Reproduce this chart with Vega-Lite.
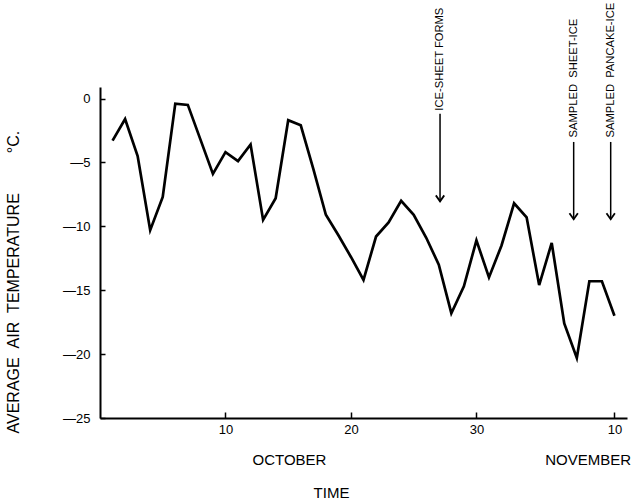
{
  "$schema": "https://vega.github.io/schema/vega-lite/v6.json",
  "width": 527,
  "height": 331,
  "autosize": "none",
  "padding": {"left": 100, "top": 87, "right": 6, "bottom": 81},
  "background": "white",
  "config": {
    "view": {"stroke": null},
    "font": "Liberation Sans",
    "axis": {
      "grid": false,
      "domainColor": "black",
      "domainWidth": 2,
      "tickColor": "black",
      "tickWidth": 1.5,
      "labelColor": "black",
      "labelFont": "Liberation Sans",
      "titleColor": "black",
      "titleFont": "Liberation Sans",
      "titleFontWeight": "normal"
    }
  },
  "datasets": {
    "temps": [
      {"day": 1, "temp": -3.3}, {"day": 2, "temp": -1.6}, {"day": 3, "temp": -4.5},
      {"day": 4, "temp": -10.3}, {"day": 5, "temp": -7.7}, {"day": 6, "temp": -0.4},
      {"day": 7, "temp": -0.5}, {"day": 8, "temp": -3.2}, {"day": 9, "temp": -5.9},
      {"day": 10, "temp": -4.2}, {"day": 11, "temp": -4.9}, {"day": 12, "temp": -3.6},
      {"day": 13, "temp": -9.5}, {"day": 14, "temp": -7.8}, {"day": 15, "temp": -1.7},
      {"day": 16, "temp": -2.1}, {"day": 17, "temp": -5.5}, {"day": 18, "temp": -9.1},
      {"day": 19, "temp": -10.7}, {"day": 20, "temp": -12.4}, {"day": 21, "temp": -14.2},
      {"day": 22, "temp": -10.8}, {"day": 23, "temp": -9.7}, {"day": 24, "temp": -8.0},
      {"day": 25, "temp": -9.1}, {"day": 26, "temp": -10.9}, {"day": 27, "temp": -13.0},
      {"day": 28, "temp": -16.8}, {"day": 29, "temp": -14.7}, {"day": 30, "temp": -11.1},
      {"day": 31, "temp": -14.0}, {"day": 32, "temp": -11.5}, {"day": 33, "temp": -8.2},
      {"day": 34, "temp": -9.3}, {"day": 35, "temp": -14.6}, {"day": 36, "temp": -11.3},
      {"day": 37, "temp": -17.6}, {"day": 38, "temp": -20.3}, {"day": 39, "temp": -14.3},
      {"day": 40, "temp": -14.3}, {"day": 41, "temp": -17.0}
    ],
    "notes": [
      {"label": "ICE-SHEET FORMS", "day": 27.1, "textStart": -0.95, "top": -1.2, "tip": -8.05},
      {"label": "SAMPLED\u00a0\u00a0SHEET-ICE", "day": 37.75, "textStart": -3.05, "top": -3.4, "tip": -9.45},
      {"label": "SAMPLED\u00a0\u00a0PANCAKE-ICE", "day": 40.7, "textStart": -3.05, "top": -3.4, "tip": -9.45}
    ],
    "months": [
      {"month": "OCTOBER", "day": 15.1},
      {"month": "NOVEMBER", "day": 38.9}
    ]
  },
  "layer": [
    {
      "data": {"name": "temps"},
      "mark": {"type": "line", "color": "black", "strokeWidth": 2.7, "strokeJoin": "miter"},
      "encoding": {
        "x": {
          "field": "day", "type": "quantitative",
          "scale": {"domain": [0, 42], "nice": false, "zero": false},
          "axis": {
            "values": [10, 20, 30, 41],
            "labelExpr": "datum.value > 31 ? datum.value - 31 : datum.value",
            "tickSize": -6,
            "labelPadding": 11,
            "labelFontSize": 13,
            "title": "TIME",
            "titleFontSize": 15,
            "titleX": 231,
            "titleY": 79,
            "titleBaseline": "alphabetic",
            "titleAlign": "center"
          }
        },
        "y": {
          "field": "temp", "type": "quantitative",
          "scale": {"domain": [-25, 0.9], "nice": false, "zero": false},
          "axis": {
            "values": [0, -5, -10, -15, -20, -25],
            "labelExpr": "datum.value < 0 ? '\u2014' + abs(datum.value) : datum.value",
            "tickSize": -5,
            "labelPadding": 15,
            "labelFontSize": 13,
            "title": "AVERAGE\u00a0\u00a0AIR\u00a0\u00a0TEMPERATURE\u00a0\u00a0\u00a0\u00a0\u00a0\u00a0\u00a0\u00a0\u00a0\u00b0C.",
            "titleFontSize": 16,
            "titleAngle": 270,
            "titleAlign": "left",
            "titleBaseline": "alphabetic",
            "titleX": -82,
            "titleY": 346
          }
        }
      }
    },
    {
      "data": {"name": "notes"},
      "mark": {"type": "rule", "color": "black", "strokeWidth": 1.5},
      "encoding": {
        "x": {"field": "day", "type": "quantitative"},
        "y": {"field": "top", "type": "quantitative"},
        "y2": {"field": "tip"}
      }
    },
    {
      "data": {"name": "notes"},
      "mark": {"type": "point", "shape": "M-0.7,-1L0,0L0.7,-1", "size": 144, "filled": false, "stroke": "black", "strokeWidth": 1.8, "opacity": 1},
      "encoding": {
        "x": {"field": "day", "type": "quantitative"},
        "y": {"field": "tip", "type": "quantitative"}
      }
    },
    {
      "data": {"name": "notes"},
      "mark": {"type": "text", "angle": 270, "align": "left", "baseline": "middle", "fontSize": 11.2, "color": "black", "font": "Liberation Sans"},
      "encoding": {
        "x": {"field": "day", "type": "quantitative"},
        "y": {"field": "textStart", "type": "quantitative"},
        "text": {"field": "label"}
      }
    },
    {
      "data": {"name": "months"},
      "mark": {"type": "text", "align": "center", "baseline": "alphabetic", "fontSize": 15, "color": "black", "font": "Liberation Sans"},
      "encoding": {
        "x": {"field": "day", "type": "quantitative"},
        "y": {"datum": -28.67},
        "text": {"field": "month"}
      }
    }
  ]
}
